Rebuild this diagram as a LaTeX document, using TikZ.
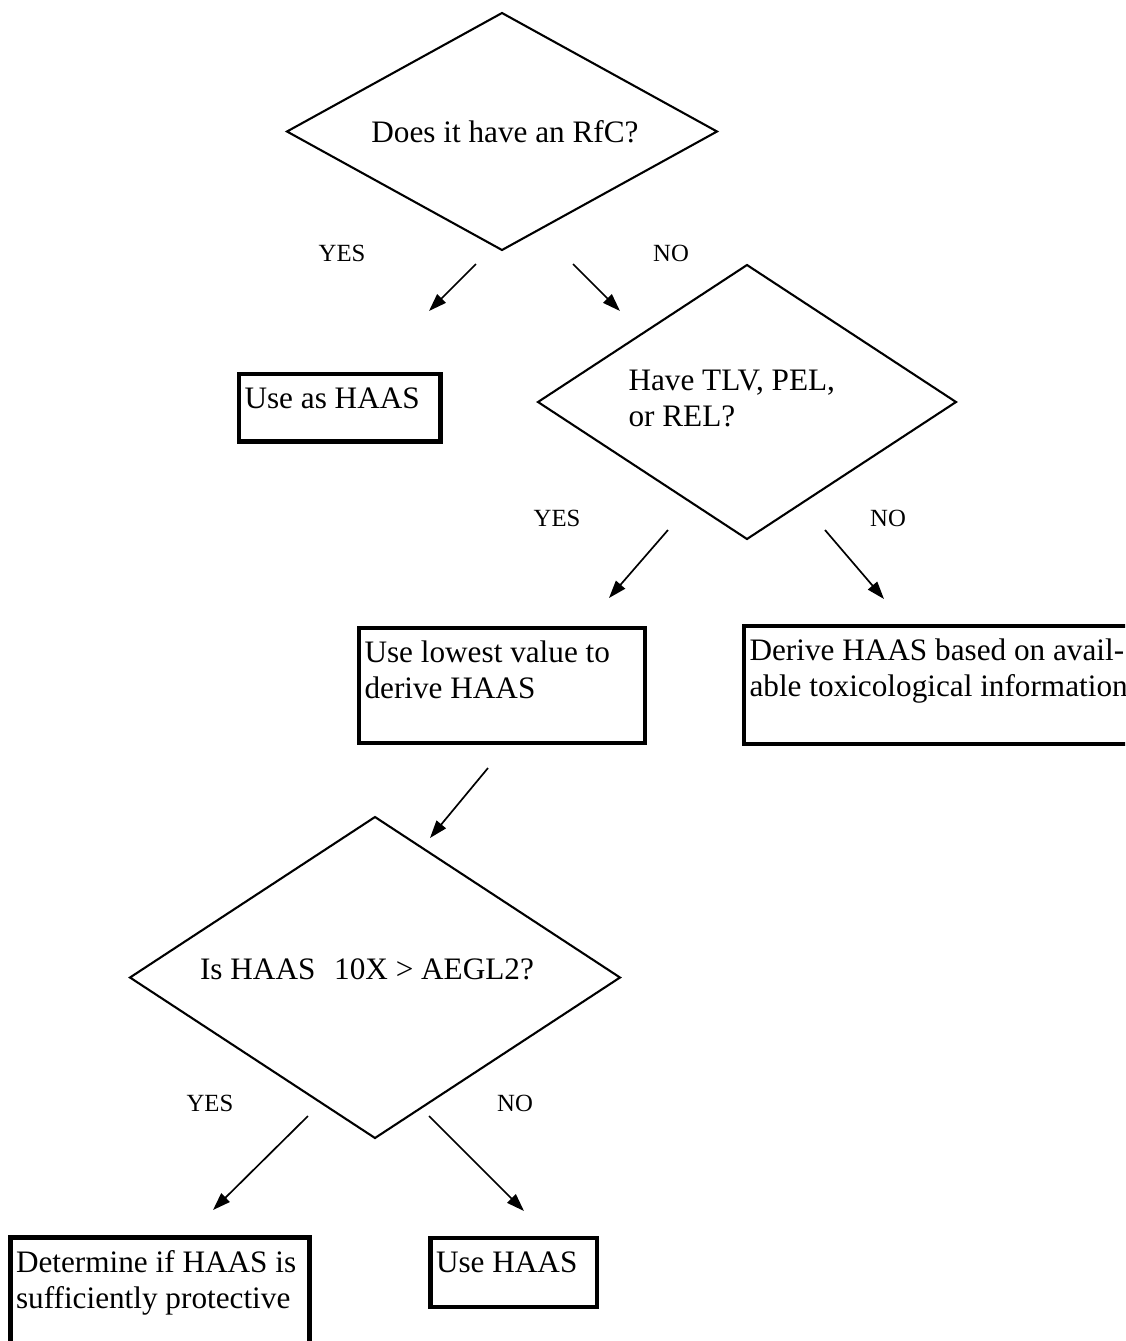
\documentclass[tikz,border=0pt]{standalone}
\usepackage{fontspec}
\setmainfont{Liberation Serif}
\usetikzlibrary{arrows.meta,shapes.geometric}

\newdimen\px
\px=0.0135cm

\tikzset{
  decision/.style={draw, diamond, line width=0.8pt, inner sep=0pt, outer sep=0pt},
  box/.style={draw, rectangle, line width=1.7pt, inner sep=0pt, outer sep=0pt},
  txt/.style={inner sep=0pt, align=left, font=\fontsize{12}{13.8}\selectfont},
  answer/.style={inner sep=0pt, font=\fontsize{9.5}{11}\selectfont},
  arr/.style={line width=0.65pt, -{Triangle[length=6.8pt,width=4.6pt]}}
}

\begin{document}
\begin{tikzpicture}[x=0.0135cm, y=-0.0135cm]
		\useasboundingbox (0,0) rectangle (1125,1341);
		\clip (0,0) rectangle (1125,1341);

		% first question
		\node[decision, minimum width=430\px, minimum height=237\px] (rfc) at (502,131.5) {};
		\node[txt] (rfctext) at (505,132) {Does it have an RfC?};
		\node[answer] (yes1) at (342,253) {YES};
		\node[answer] (no1) at (671,253) {NO};
		\coordinate (a1s) at (476,264);
		\coordinate (a1e) at (429,311);
		\coordinate (a2s) at (573,264);
		\coordinate (a2e) at (620,311);
		\draw[arr] (a1s) -- (a1e);
		\draw[arr] (a2s) -- (a2e);

		\node[box, minimum width=201.5\px, minimum height=67.5\px] (useas) at (339.75,407.75) {};
		\node[txt, anchor=north west] (useastext) at ([shift={(5,9)}]useas.north west) {\strut Use as HAAS};

		% second question
		\node[decision, minimum width=418\px, minimum height=274\px] (tlv) at (747,402) {};
		\node[txt, anchor=north west] (tlvtext) at (628,365) {\strut Have TLV, PEL,\\or REL?};
		\node[answer] (yes2) at (557,518) {YES};
		\node[answer] (no2) at (888,518) {NO};
		\coordinate (a3s) at (668,530);
		\coordinate (a3e) at (609,598);
		\coordinate (a4s) at (825,530);
		\coordinate (a4e) at (884,599);
		\draw[arr] (a3s) -- (a3e);
		\draw[arr] (a4s) -- (a4e);

		\node[box, minimum width=286\px, minimum height=115\px] (lowest) at (502,685.5) {};
		\node[txt, anchor=north west] (lowesttext) at ([shift={(5,9)}]lowest.north west) {\strut Use lowest value to\\derive HAAS};
		\node[box, minimum width=406\px, minimum height=118\px] (derive) at (947,685) {};
		\node[txt, anchor=north west] (derivetext) at ([shift={(5,9)}]derive.north west) {\strut Derive HAAS based on avail-\\able toxicological information};

		\coordinate (a5s) at (488,768);
		\coordinate (a5e) at (430,838);
		\draw[arr] (a5s) -- (a5e);

		% third question
		\node[decision, minimum width=490\px, minimum height=321\px] (aegl) at (375,977.5) {};
		\node[txt] (aegltext) at (367,969) {Is HAAS\hspace{0.6em}10X > AEGL2?};
		\node[answer] (yes3) at (210,1103) {YES};
		\node[answer] (no3) at (515,1103) {NO};
		\coordinate (a6s) at (308,1116);
		\coordinate (a6e) at (213,1210);
		\coordinate (a7s) at (429,1116);
		\coordinate (a7e) at (524,1211);
		\draw[arr] (a6s) -- (a6e);
		\draw[arr] (a7s) -- (a7e);

		\node[box, minimum width=299\px, minimum height=122.5\px] (determine) at (160,1298.75) {};
		\node[txt, anchor=north west] (determinetext) at ([shift={(5,9)}]determine.north west) {\strut Determine if HAAS is\\sufficiently protective};
		\node[box, minimum width=166.5\px, minimum height=69\px] (usehaas) at (513.75,1272.5) {};
		\node[txt, anchor=north west] (usehaastext) at ([shift={(5,9)}]usehaas.north west) {\strut Use HAAS};
		\end{tikzpicture}
\end{document}
